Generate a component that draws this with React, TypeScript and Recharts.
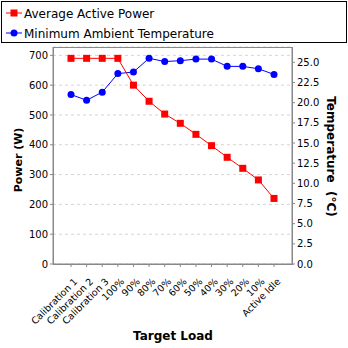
import { LineChart, Line, XAxis, YAxis, CartesianGrid } from "recharts";

const loads = [
	"Calibration 1",
	"Calibration 2",
	"Calibration 3",
	"100%",
	"90%",
	"80%",
	"70%",
	"60%",
	"50%",
	"40%",
	"30%",
	"20%",
	"10%",
	"Active Idle",
];
const power = [690, 690, 690, 690, 600, 546, 503, 472, 435, 397, 358, 321, 282, 220];
const temperature = [21.0, 20.3, 21.3, 23.6, 23.8, 25.5, 25.1, 25.2, 25.4, 25.4, 24.5, 24.5, 24.2, 23.5];
const powerTicks = [0, 100, 200, 300, 400, 500, 600, 700];
const tempTicks = [0, 2.5, 5, 7.5, 10, 12.5, 15, 17.5, 20, 22.5, 25];

const data = loads.map((load, i) => ({ load, power: power[i], temp: temperature[i] }));

const font = "'DejaVu Sans', sans-serif";

// rotated category labels, end of text sits just under the tick
const XTick = (props: any) => {
	const { x, y, payload } = props;
	const ax = x + 2;
	const ay = y + 8;
	return (
		<text
			x={ax}
			y={ay}
			textAnchor="end"
			fontSize={9.5}
			fontFamily={font}
			fill="#000"
			transform={`rotate(-45 ${ax} ${ay})`}
			dominantBaseline="hanging"
		>
			{payload.value}
		</text>
	);
};

const Square = (props: any) => {
	const { cx, cy, index } = props;
	return <rect key={index} x={cx - 3.5} y={cy - 3.5} width={7} height={7} fill="#ff0000" />;
};

const App = () => {
	return (
		<div style={{ position: "absolute", left: 0, top: 0, width: 348, height: 348, background: "#fff", fontFamily: font }}>
			<div
				style={{
					position: "absolute",
					left: 1,
					top: 1,
					width: 344,
					height: 40,
					border: "1px solid #000",
				}}
			>
				<svg width={344} height={40} style={{ position: "absolute", left: 0, top: 0 }}>
					<line x1={4} y1={11} x2={20} y2={11} stroke="#ff0000" />
					<rect x={8.5} y={7.5} width={7} height={7} fill="#ff0000" />
					<text x={22} y={15.5} fontSize={12} fontFamily={font} fill="#000">Average Active Power</text>
					<line x1={4} y1={31} x2={20} y2={31} stroke="#0000ff" />
					<circle cx={12} cy={31} r={3.5} fill="#0000ff" />
					<text x={22} y={35.5} fontSize={12} fontFamily={font} fill="#000">Minimum Ambient Temperature</text>
				</svg>
			</div>
			<LineChart width={348} height={348} data={data} margin={{ top: 47, right: 0, bottom: 0, left: 0 }}>
				<CartesianGrid vertical={false} stroke="#d4d4d4" strokeDasharray="3 3" yAxisId="power" />
				<XAxis
					dataKey="load"
					height={84}
					padding={{ left: 18, right: 18 }}
					interval={0}
					tick={<XTick />}
					tickSize={3}
					stroke="#888"
				/>
				<YAxis
					yAxisId="power"
					width={53}
					domain={[0, 728]}
					ticks={powerTicks}
					tickSize={3}
					tickMargin={2}
					stroke="#888"
					tick={{ fontSize: 10, fill: "#000", fontFamily: font }}
				/>
				<YAxis
					yAxisId="temp"
					orientation="right"
					width={56}
					domain={[0, 26.9]}
					ticks={tempTicks}
					tickSize={3}
					tickMargin={2}
					stroke="#888"
					tickFormatter={(v: number) => v.toFixed(1)}
					tick={{ fontSize: 10, fill: "#000", fontFamily: font }}
				/>
				<Line
					yAxisId="temp"
					dataKey="temp"
					stroke="#0000ff"
					strokeWidth={1}
					dot={{ r: 3.5, fill: "#0000ff", stroke: "none" }}
					isAnimationActive={false}
				/>
				<Line
					yAxisId="power"
					dataKey="power"
					stroke="#ff0000"
					strokeWidth={1}
					dot={<Square />}
					isAnimationActive={false}
				/>
			</LineChart>
			<div style={{ position: "absolute", left: 53, top: 47, width: 238, height: 216, border: "1px solid #888", pointerEvents: "none", boxSizing: "content-box" }} />
			<svg width={348} height={348} style={{ position: "absolute", left: 0, top: 0, pointerEvents: "none" }}>
				<text x={21.5} y={160} transform="rotate(-90 21.5 160)" textAnchor="middle" fontSize={11} fontWeight="bold" fontFamily={font} fill="#000">
					Power (W)
				</text>
				<text x={327} y={156.5} transform="rotate(90 327 156.5)" textAnchor="middle" fontSize={12} fontWeight="bold" fontFamily={font} fill="#000" style={{ whiteSpace: "pre" }}>
					{"Temperature  (°C)"}
				</text>
				<text x={173} y={340} textAnchor="middle" fontSize={12} fontWeight="bold" fontFamily={font} fill="#000">
					Target Load
				</text>
			</svg>
		</div>
	);
};

export default App;
